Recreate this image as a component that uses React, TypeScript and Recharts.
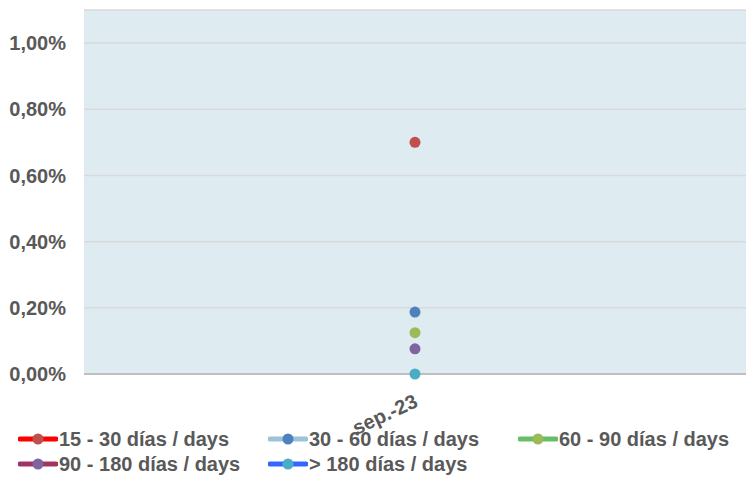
import { LineChart, Line, XAxis, YAxis, CartesianGrid, Legend } from "recharts";

const categories = ["sep.-23"];
const seriesNames = [
  "15 - 30 días / days",
  "30 - 60 días / days",
  "60 - 90 días / days",
  "90 - 180 días / days",
  "> 180 días / days",
];
const seriesValues = [[0.7], [0.187], [0.125], [0.076], [0.0]];
const yTicks = [0, 0.2, 0.4, 0.6, 0.8, 1.0];

const lineColors = ["#FF0000", "#9CC3D8", "#66BE66", "#A23463", "#3366FF"];
const dotColors = ["#C0504D", "#4F81BD", "#9BBB59", "#8064A2", "#4BACC6"];

const data = categories.map((c, i) => {
  const row: Record<string, string | number> = { name: c };
  seriesValues.forEach((vals, s) => {
    row["s" + s] = vals[i];
  });
  return row;
});

const font = "'Liberation Sans', Arial, sans-serif";
const textColor = "#595959";

const fmt = (v: number) => v.toFixed(2).replace(".", ",") + "%";

function XTick({ x, y, payload }: any) {
  return (
    <text
      x={x + 4}
      y={y + 24}
      transform={`rotate(-25, ${x + 4}, ${y + 24})`}
      textAnchor="end"
      fill={textColor}
      fontSize={20}
      fontWeight="bold"
      fontFamily={font}
    >
      {payload.value}
    </text>
  );
}

const legendLeft = [18, 268, 518];

function LegendContent() {
  return (
    <div style={{ position: "relative", height: 56, fontFamily: font }}>
      {seriesNames.map((name, i) => {
        const row = Math.floor(i / 3);
        const col = i % 3;
        return (
          <div
            key={name}
            style={{
              position: "absolute",
              left: legendLeft[col],
              top: 2 + row * 25,
              height: 26,
              display: "flex",
              alignItems: "center",
              fontSize: 20,
              fontWeight: "bold",
              color: textColor,
              whiteSpace: "nowrap",
            }}
          >
            <svg width={40} height={14} style={{ marginRight: 1 }}>
              <line x1={2} y1={7} x2={38} y2={7} stroke={lineColors[i]} strokeWidth={5} strokeLinecap="round" />
              <circle cx={20} cy={7} r={5.5} fill={dotColors[i]} />
            </svg>
            <span>{name}</span>
          </div>
        );
      })}
    </div>
  );
}

export default function App() {
  return (
    <div style={{ width: 746, height: 480, background: "#fff", overflow: "hidden" }}>
      <style>{`html, body { margin: 0; padding: 0; overflow: hidden; }`}</style>
      <LineChart
        width={746}
        height={480}
        data={data}
        margin={{ top: 10, right: 0, bottom: 0, left: 0 }}
      >
        <CartesianGrid vertical={false} stroke="#D9D9D9" strokeWidth={1.5} fill="#DEEBF1" />
        <XAxis
          dataKey="name"
          height={50}
          tick={<XTick />}
          tickLine={false}
          axisLine={{ stroke: "#BFBFBF", strokeWidth: 2 }}
        />
        <YAxis
          width={84}
          domain={[0, 1.1]}
          ticks={yTicks}
          tickFormatter={fmt}
          tickLine={false}
          axisLine={false}
          tickSize={0}
          tickMargin={18}
          tick={{ fill: textColor, fontSize: 20, fontWeight: "bold", fontFamily: font }}
        />
        <Legend verticalAlign="bottom" height={56} content={<LegendContent />} />
        {seriesNames.map((name, i) => (
          <Line
            key={name}
            dataKey={"s" + i}
            name={name}
            stroke={lineColors[i]}
            strokeWidth={3}
            dot={{ r: 5.5, fill: dotColors[i], stroke: "none" }}
            isAnimationActive={false}
          />
        ))}
      </LineChart>
    </div>
  );
}
